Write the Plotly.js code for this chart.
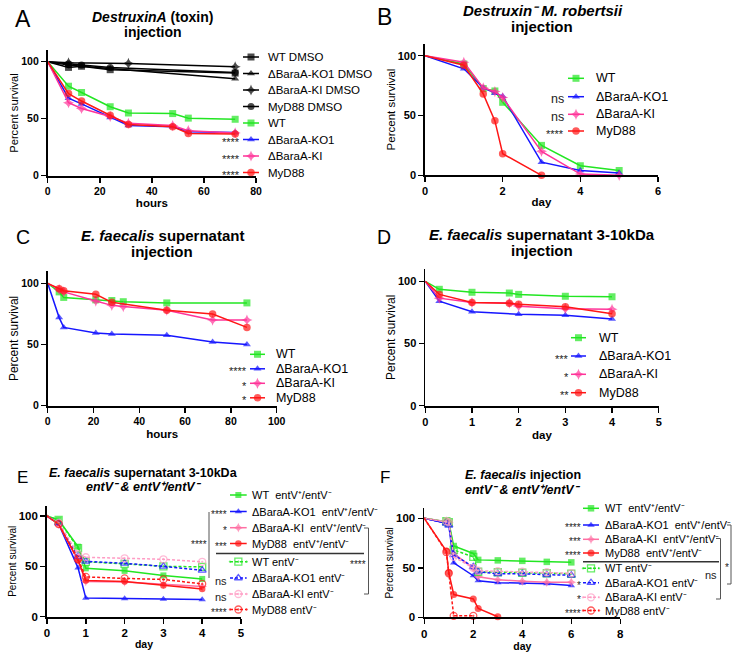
<!DOCTYPE html>
<html><head><meta charset="utf-8">
<script src="https://cdn.plot.ly/plotly-3.0.1.min.js"></script>
<style>html,body{margin:0;padding:0;background:#fff}#chart{width:733px;height:653px}</style>
</head><body><div id="chart"></div>
<script>
// ================= DATA =================
// Panel A: DestruxinA (toxin) injection (x: hours)
const A_names = ['WT DMSO','ΔBaraA-KO1 DMSO','ΔBaraA-KI DMSO','MyD88 DMSO','WT','ΔBaraA-KO1','ΔBaraA-KI','MyD88'];
const A_wtDmso_t = [0, 8, 13, 24, 72];
const A_wtDmso_y = [100, 95, 96, 93, 90];
const A_ko1Dmso_t = [0, 8, 13, 24, 72];
const A_ko1Dmso_y = [100, 97, 96, 94, 85];
const A_kiDmso_t = [0, 8, 31, 72];
const A_kiDmso_y = [100, 99, 98.5, 95.5];
const A_myd88Dmso_t = [0, 8, 13, 24, 72];
const A_myd88Dmso_y = [100, 98, 97, 95, 90.5];
const A_t = [0, 8, 13, 24, 31, 48, 54, 72];
const A_wt_y = [100, 78.5, 73, 60.5, 55, 54.5, 50.5, 49.5];
const A_ko1_y = [100, 68, 63, 51, 44, 43, 38.5, 38];
const A_ki_y = [100, 64, 59, 52, 46, 44, 39.5, 37.5];
const A_myd88_y = [100, 72, 65.5, 53, 45, 43, 37, 36.5];
const A_sig = ['', '', '', '', '', '****', '****', '****'];

// Panel B: Destruxin- M. robertsii injection (x: day)
const B_names = ['WT','ΔBaraA-KO1','ΔBaraA-KI','MyD88'];
const B_t = [0, 1, 1.5, 1.8, 2, 3, 4, 5];
const B_wt_y = [100, 93, 72.5, 70.5, 61, 25, 8, 4];
const B_ko1_y = [100, 89, 73, 68.5, 66, 11, 4, 2];
const B_ki_y = [100, 94.5, 73, 70, 65, 20, 1, 0];
const B_myd88_t = [0, 1, 1.5, 1.8, 2, 3];
const B_myd88_y = [100, 92, 68, 45.5, 18, 0];
const B_sig = ['', 'ns', 'ns', '****'];

// Panel C: E. faecalis supernatant injection (x: hours)
const C_names = ['WT','ΔBaraA-KO1','ΔBaraA-KI','MyD88'];
const C_wt_t = [0, 5, 7, 21, 28, 33, 52, 87];
const C_wt_y = [100, 93, 88.5, 86.5, 86, 85, 84, 84];
const C_ko1_t = [0, 5, 7, 21, 28, 52, 72, 87];
const C_ko1_y = [100, 72, 64, 59.5, 58.5, 57.5, 52, 50];
const C_ki_t = [0, 5, 7, 21, 28, 33, 52, 72, 87];
const C_ki_y = [100, 95, 93, 85.5, 82, 81, 78, 70, 70];
const C_myd88_t = [0, 5, 7, 21, 28, 52, 72, 87];
const C_myd88_y = [100, 95.5, 94, 91, 84.5, 78, 75, 64];
const C_sig = ['', '****', '*', '*'];

// Panel D: E. faecalis supernatant 3-10kDa injection (x: day)
const D_names = ['WT','ΔBaraA-KO1','ΔBaraA-KI','MyD88'];
const D_t = [0, 0.3, 1, 1.8, 2, 3, 4];
const D_wt_y = [100, 93.6, 91.2, 90.6, 89.5, 88, 87.6];
const D_ko1_t = [0, 0.3, 1, 2, 3, 4];
const D_ko1_y = [100, 84, 75.6, 73.5, 72.7, 69.7];
const D_ki_y = [100, 86.5, 83, 82.5, 80, 78, 77.5];
const D_myd88_y = [100, 89.5, 83, 82.3, 81.5, 79.6, 74];
const D_sig = ['', '***', '*', '**'];

// Panel E: E. faecalis supernatant 3-10kDa, entV- & entV+/entV- (x: day)
const E_names = ['WT\u00a0 entV⁺/entV⁻','ΔBaraA-KO1\u00a0 entV⁺/entV⁻','ΔBaraA-KI\u00a0 entV⁺/entV⁻','MyD88\u00a0 entV⁺/entV⁻',
  'WT entV⁻','ΔBaraA-KO1 entV⁻','ΔBaraA-KI entV⁻','MyD88 entV⁻'];
const E_t = [0, 0.3, 0.8, 1, 2, 3, 4];
const E_wtPos_y = [100, 96, 69.5, 48, 45.5, 41, 37.5];
const E_ko1Pos_y = [100, 92, 48.5, 18.5, 18, 17.5, 17];
const E_kiPos_y = [100, 92, 56, 35, 34.5, 32, 30];
const E_myd88Pos_y = [100, 92, 56, 36, 35, 31, 27.5];
const E_wtNeg_y = [100, 96, 68, 54.5, 52.5, 50, 49.5];
const E_ko1Neg_y = [100, 93, 60, 55, 53, 50, 46];
const E_kiNeg_y = [100, 93, 62, 59, 58, 57, 54.5];
const E_myd88Neg_y = [100, 92, 57, 39.5, 38, 37, 32.5];
const E_sig = ['', '****', '*', '***', '', 'ns', 'ns', '****'];

// Panel F: E. faecalis injection, entV- & entV+/entV- (x: day)
const F_names = E_names;
const F_t = [0, 0.9, 1, 1.2, 2, 2.2, 3, 4, 5, 6];
const F_wtPos_y = [100, 97, 96, 72, 64.5, 58, 57.5, 57, 56, 55.5];
const F_ko1Pos_y = [100, 95, 93, 55, 42, 37, 35, 34.5, 34, 32];
const F_kiPos_y = [100, 97, 96, 64.5, 49.5, 41, 38, 36.5, 35.5, 35.5];
const F_myd88Pos_t = [0, 0.9, 1, 1.2, 2, 2.2, 3];
const F_myd88Pos_y = [100, 67, 45, 23, 18.5, 9, 0.5];
const F_wtNeg_y = [100, 97, 96, 68, 61, 46, 45.5, 45, 44.5, 44];
const F_ko1Neg_y = [100, 95, 93, 63, 51, 46, 44, 44, 43, 42.5];
const F_kiNeg_y = [100, 97, 96, 61, 50, 47, 46.5, 46, 45.5, 44.5];
const F_myd88Neg_t = [0, 0.9, 1, 1.2, 2];
const F_myd88Neg_y = [100, 66, 44.5, 1.5, 1.5];
const F_sig = ['', '****', '***', '****', '', '*', '*', '****'];

const Y_TICKS = [0, 50, 100];

// ================= STYLE / LAYOUT =================
const W = 733, H = 653;
const FONT = '"Liberation Sans", Arial, Helvetica, sans-serif';
const GREEN = '#22e622', BLUE = '#1616ff', PINK = '#ff3399', RED = '#ff1616', BLACK = '#000000';
const PINK2 = '#ff6fa3', PINK3 = '#ff9cc4';
const DASH = '3px,2px';

const traces = [], annotations = [], shapes = [];
const layout = {
  width: W, height: H, margin: {l: 0, r: 0, t: 0, b: 0},
  paper_bgcolor: '#ffffff', plot_bgcolor: 'rgba(0,0,0,0)', showlegend: false,
  font: {family: FONT, color: '#000'}, annotations, shapes,
  xaxis7: {domain: [0, 1], range: [0, W], visible: false, fixedrange: true, anchor: 'y7'},
  yaxis7: {domain: [0, 1], range: [H, 0], visible: false, fixedrange: true, anchor: 'x7'}
};

function txt(x, y, text, size, anchor, weight, color) {
  annotations.push({xref: 'x7', yref: 'y7', x: x, y: y, text: text, showarrow: false,
    xanchor: anchor || 'center', yanchor: 'middle', borderpad: 0,
    font: {family: FONT, size: size, color: color || '#000', weight: weight || 400}});
}
function seg(x0, y0, x1, y1, w, c) {
  shapes.push({type: 'line', xref: 'x7', yref: 'y7', x0: x0, y0: y0, x1: x1, y1: y1,
    line: {color: c || '#333', width: w || 1}});
}

const axisCommon = {showline: true, linewidth: 1.8, linecolor: '#000', ticks: 'outside', ticklen: 5,
  tickwidth: 1.5, tickcolor: '#000', showgrid: false, zeroline: false, automargin: false, fixedrange: true};

function panel(idx, g, series) {
  const sfx = idx === 1 ? '' : String(idx);
  const xid = 'x' + sfx, yid = 'y' + sfx;
  layout['xaxis' + sfx] = Object.assign({}, axisCommon, {
    domain: [g.x[0] / W, g.x[1] / W], anchor: yid, range: g.xr, tickvals: g.xt,
    tickfont: {family: FONT, size: g.tf, weight: 700},
    title: {text: g.xtitle, font: {family: FONT, size: g.xtf, weight: 700}, standoff: g.xso}
  });
  layout['yaxis' + sfx] = Object.assign({}, axisCommon, {
    domain: [1 - g.yb / H, 1 - g.yt / H], anchor: xid, range: [0, 110], tickvals: Y_TICKS,
    tickfont: {family: FONT, size: g.tf, weight: 700},
    title: {text: 'Percent survival', font: {family: FONT, size: g.ytf}, standoff: g.yso}
  });
  const L = g.legend;
  series.forEach(function (s, i) {
    const lw = s.open ? 1.3 : 0;
    traces.push({type: 'scatter', mode: 'lines+markers', x: s.x, y: s.y, xaxis: xid, yaxis: yid,
      name: s.name, line: {color: s.color, width: 1.5, dash: s.dash || 'solid'},
      marker: {symbol: s.symbol, size: s.x.map(function (v, j) { return j === 0 ? 0 : s.size; }),
        color: s.color, line: {color: s.color, width: lw}},
      cliponaxis: false, hoverinfo: 'skip', showlegend: false});
    // legend key
    const r = L.rows[i];
    traces.push({type: 'scatter', mode: 'lines+markers', x: [L.k0, (L.k0 + L.k1) / 2, L.k1], y: [r, r, r],
      xaxis: 'x7', yaxis: 'y7', line: {color: s.color, width: 1.5, dash: s.dash || 'solid'},
      marker: {symbol: s.symbol, size: [0, s.size, 0], color: s.color, line: {color: s.color, width: lw}},
      cliponaxis: false, hoverinfo: 'skip', showlegend: false});
    txt(L.T, r, s.name, L.fs, 'left');
    if (s.sig) txt(L.sx, r + 2.5, s.sig, s.sig === 'ns' ? L.fs : L.sfs, 'right', 400, '#222');
  });
}

function S(name, x, y, color, symbol, size, sig, dash, open) {
  return {name: name, x: x, y: y, color: color, symbol: symbol, size: size, sig: sig, dash: dash, open: open};
}

// ---- Panel A ----
panel(1, {x: [47.7, 256], yb: 175.7, yt: 50.3, xr: [0, 80], xt: [0, 20, 40, 60, 80], xtitle: 'hours',
  tf: 10.5, xtf: 11.5, ytf: 11.2, xso: 2, yso: 0,
  legend: {k0: 243, k1: 259, T: 266.7, fs: 11.5, sfs: 11, sx: 241,
    rows: [57, 73.5, 90, 106.5, 123, 139.5, 156, 172.5]}}, [
  S(A_names[0], A_wtDmso_t, A_wtDmso_y, BLACK, 'square', 7, A_sig[0]),
  S(A_names[1], A_ko1Dmso_t, A_ko1Dmso_y, BLACK, 'triangle-up', 7, A_sig[1]),
  S(A_names[2], A_kiDmso_t, A_kiDmso_y, BLACK, 'star-diamond', 8, A_sig[2]),
  S(A_names[3], A_myd88Dmso_t, A_myd88Dmso_y, BLACK, 'circle', 7, A_sig[3]),
  S(A_names[4], A_t, A_wt_y, GREEN, 'square', 7, A_sig[4]),
  S(A_names[5], A_t, A_ko1_y, BLUE, 'triangle-up', 7, A_sig[5]),
  S(A_names[6], A_t, A_ki_y, PINK, 'star-diamond', 8, A_sig[6]),
  S(A_names[7], A_t, A_myd88_y, RED, 'circle', 7.5, A_sig[7])
]);

// ---- Panel B ----
panel(2, {x: [425, 658], yb: 175.3, yt: 43.7, xr: [0, 6], xt: [0, 2, 4, 6], xtitle: 'day',
  tf: 11, xtf: 11.5, ytf: 11.5, xso: 2, yso: 0,
  legend: {k0: 568, k1: 584, T: 594.7, fs: 12.5, sfs: 11, sx: 565,
    rows: [78.3, 96.7, 114.3, 131]}}, [
  S(B_names[0], B_t, B_wt_y, GREEN, 'square', 7, B_sig[0]),
  S(B_names[1], B_t, B_ko1_y, BLUE, 'triangle-up', 7, B_sig[1]),
  S(B_names[2], B_t, B_ki_y, PINK, 'star-diamond', 8, B_sig[2]),
  S(B_names[3], B_myd88_t, B_myd88_y, RED, 'circle', 7.5, B_sig[3])
]);

// ---- Panel C ----
panel(3, {x: [47.7, 276.7], yb: 405.7, yt: 271.1, xr: [0, 100], xt: [0, 20, 40, 60, 80, 100], xtitle: 'hours',
  tf: 10.5, xtf: 11.5, ytf: 12, xso: 4, yso: 0,
  legend: {k0: 250, k1: 265, T: 275, fs: 12.5, sfs: 11, sx: 248,
    rows: [354.3, 368.8, 383.3, 397.8]}}, [
  S(C_names[0], C_wt_t, C_wt_y, GREEN, 'square', 7, C_sig[0]),
  S(C_names[1], C_ko1_t, C_ko1_y, BLUE, 'triangle-up', 7, C_sig[1]),
  S(C_names[2], C_ki_t, C_ki_y, PINK, 'star-diamond', 8, C_sig[2]),
  S(C_names[3], C_myd88_t, C_myd88_y, RED, 'circle', 7.5, C_sig[3])
]);

// ---- Panel D ----
panel(4, {x: [425.3, 658.7], yb: 405.7, yt: 268.9, xr: [0, 5], xt: [0, 1, 2, 3, 4, 5], xtitle: 'day',
  tf: 11, xtf: 11.5, ytf: 12, xso: 4, yso: 0,
  legend: {k0: 571, k1: 586, T: 598.3, fs: 12.5, sfs: 11, sx: 570,
    rows: [337.7, 356, 374.3, 392.7]}}, [
  S(D_names[0], D_t, D_wt_y, GREEN, 'square', 7, D_sig[0]),
  S(D_names[1], D_ko1_t, D_ko1_y, BLUE, 'triangle-up', 7, D_sig[1]),
  S(D_names[2], D_t, D_ki_y, PINK, 'star-diamond', 8, D_sig[2]),
  S(D_names[3], D_t, D_myd88_y, RED, 'circle', 7.5, D_sig[3])
]);

// ---- Panel E ----
panel(5, {x: [47, 241], yb: 616.7, yt: 505.9, xr: [0, 5], xt: [0, 1, 2, 3, 4, 5], xtitle: 'day',
  tf: 11.5, xtf: 10.5, ytf: 10, xso: 2, yso: 0,
  legend: {k0: 230, k1: 246.7, T: 250.7, fs: 11, sfs: 10, sx: 228,
    rows: [495, 511.5, 527.7, 543.5, 561.7, 578, 594, 609.5]}}, [
  S(E_names[0], E_t, E_wtPos_y, GREEN, 'square', 6, E_sig[0]),
  S(E_names[1], E_t, E_ko1Pos_y, BLUE, 'triangle-up', 6.5, E_sig[1]),
  S(E_names[2], E_t, E_kiPos_y, PINK2, 'star-diamond', 7, E_sig[2]),
  S(E_names[3], E_t, E_myd88Pos_y, RED, 'circle', 6.5, E_sig[3]),
  S(E_names[4], E_t, E_wtNeg_y, GREEN, 'square-open-dot', 7, E_sig[4], DASH, true),
  S(E_names[5], E_t, E_ko1Neg_y, BLUE, 'triangle-up-open', 7, E_sig[5], DASH, true),
  S(E_names[6], E_t, E_kiNeg_y, PINK3, 'circle-open-dot', 7, E_sig[6], DASH, true),
  S(E_names[7], E_t, E_myd88Neg_y, RED, 'circle-open-dot', 7, E_sig[7], DASH, true)
]);

// ---- Panel F ----
panel(6, {x: [424.3, 620.3], yb: 617.3, yt: 508.4, xr: [0, 8], xt: [0, 2, 4, 6, 8], xtitle: 'day',
  tf: 11.5, xtf: 10.5, ytf: 10, xso: 2, yso: 0,
  legend: {k0: 583, k1: 599, T: 604.3, fs: 11, sfs: 10, sx: 582,
    rows: [508.3, 525, 539.3, 553, 568.3, 582.7, 597.3, 610.5]}}, [
  S(F_names[0], F_t, F_wtPos_y, GREEN, 'square', 6.5, F_sig[0]),
  S(F_names[1], F_t, F_ko1Pos_y, BLUE, 'triangle-up', 6.5, F_sig[1]),
  S(F_names[2], F_t, F_kiPos_y, PINK2, 'star-diamond', 7, F_sig[2]),
  S(F_names[3], F_myd88Pos_t, F_myd88Pos_y, RED, 'circle', 7, F_sig[3]),
  S(F_names[4], F_t, F_wtNeg_y, GREEN, 'square-open-dot', 7, F_sig[4], DASH, true),
  S(F_names[5], F_t, F_ko1Neg_y, BLUE, 'triangle-up-open', 7, F_sig[5], DASH, true),
  S(F_names[6], F_t, F_kiNeg_y, PINK3, 'circle-open-dot', 7, F_sig[6], DASH, true),
  S(F_names[7], F_myd88Neg_t, F_myd88Neg_y, RED, 'circle-open-dot', 7, F_sig[7], DASH, true)
]);

// ---- Panel titles and letters ----
txt(152.8, 16.7, '<i>DestruxinA</i> (toxin)', 14, 'center', 700);
txt(152.8, 31.7, 'injection', 14, 'center', 700);
txt(542.7, 10, '<i>Destruxin⁻ M. robertsii</i>', 15, 'center', 700);
txt(541.5, 26, 'injection', 15, 'center', 700);
txt(162.7, 235.7, '<i>E. faecalis</i> supernatant', 15, 'center', 700);
txt(161.7, 251, 'injection', 15, 'center', 700);
txt(541.8, 234.3, '<i>E. faecalis</i> supernatant 3-10kDa', 15, 'center', 700);
txt(542.3, 250, 'injection', 15, 'center', 700);
txt(143.7, 472.5, '<i>E. faecalis</i> supernatant 3-10kDa', 12.5, 'center', 700);
txt(144.2, 487, '<i>entV⁻ &amp; entV⁺/entV⁻</i>', 12.5, 'center', 700);
txt(522.7, 475, '<i>E. faecalis</i> injection', 12.5, 'center', 700);
txt(522.7, 490, '<i>entV⁻ &amp; entV⁺/entV⁻</i>', 12.5, 'center', 700);

txt(22.5, 18.5, 'A', 23); txt(384.3, 17, 'B', 23);
txt(22.5, 236.5, 'C', 19.5); txt(384.3, 236.5, 'D', 19.5);
txt(22.5, 477, 'E', 17); txt(385, 477, 'F', 17);

// ---- Comparison brackets (panel E) ----
seg(209, 512, 209, 578, 1, '#555');
txt(207.5, 544, '****', 10, 'right', 400, '#222');
seg(216, 553.5, 364, 553.5, 1.5, '#333');
seg(368.5, 528, 368.5, 594, 1, '#555');
seg(364, 528, 368.5, 528, 1, '#555');
seg(364, 594, 368.5, 594, 1, '#555');
txt(367, 564, '****', 10, 'right', 400, '#222');

// ---- Comparison brackets (panel F) ----
seg(583, 561.7, 719, 561.7, 1.5, '#333');
seg(731, 525, 731, 584, 1, '#555');
seg(727, 525, 731, 525, 1, '#555');
seg(727, 584, 731, 584, 1, '#555');
txt(726.5, 567, '*', 10, 'center', 400, '#222');
seg(720.5, 538.5, 720.5, 599, 1, '#555');
seg(716, 538.5, 720.5, 538.5, 1, '#555');
seg(716, 599, 720.5, 599, 1, '#555');
txt(718, 575, 'ns', 11, 'right', 400, '#222');

Plotly.newPlot('chart', traces, layout, {staticPlot: true, displayModeBar: false});
</script>
</body></html>
